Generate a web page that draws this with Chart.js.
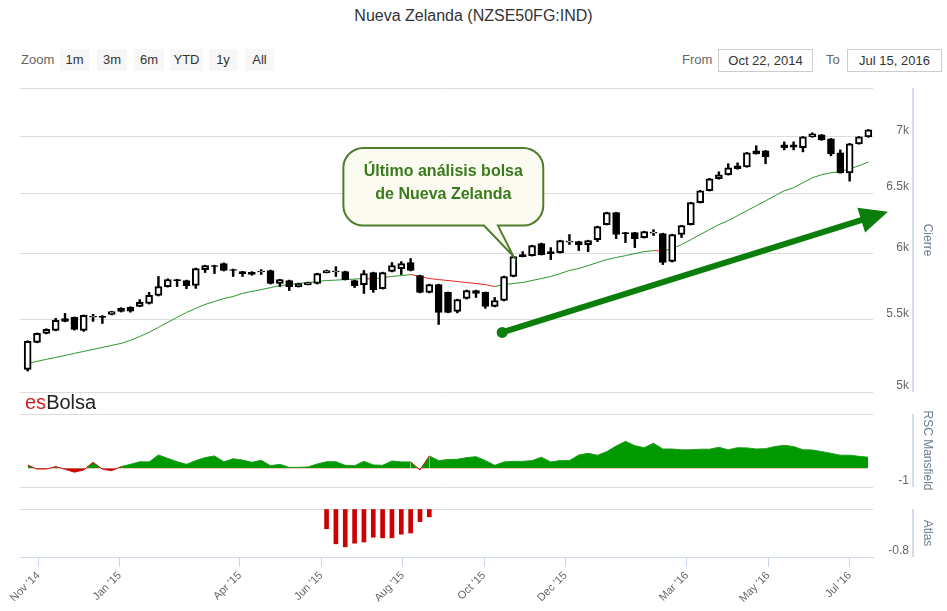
<!DOCTYPE html>
<html lang="es">
<head>
<meta charset="utf-8">
<title>Nueva Zelanda (NZSE50FG:IND)</title>
<script src="https://cdn.jsdelivr.net/npm/chart.js@4.4.1/dist/chart.umd.min.js"></script>
<style>
  html, body { margin: 0; padding: 0; background: #fff; }
  body { font-family: "Liberation Sans", Arial, sans-serif; }
  #wrap { position: relative; width: 947px; height: 611px; overflow: hidden; }
  #title { position: absolute; left: 0; top: 7px; width: 947px; text-align: center; font-size: 16px; color: #333; }
  .lbl { position: absolute; top: 52px; font-size: 13px; line-height: 16px; color: #666; }
  .btn { position: absolute; top: 49px; height: 22px; line-height: 22px; background: #f7f7f7; font-size: 13px; color: #333; text-align: center; }
  .inp { position: absolute; top: 49px; width: 93px; height: 21px; line-height: 21px; border: 1px solid #ccc; font-size: 13px; color: #333; text-align: center; }
  canvas { position: absolute; left: 0; }
  #logo { position: absolute; left: 25px; top: 391px; font-size: 20px; line-height: 23px; color: #222; }
  #logo span { color: #d42020; }
</style>
</head>
<body>
<div id="wrap">
  <div id="title">Nueva Zelanda (NZSE50FG:IND)</div>

  <div class="lbl" style="left:21px">Zoom</div>
  <div class="btn" style="left:60px;width:29px">1m</div>
  <div class="btn" style="left:97px;width:30px">3m</div>
  <div class="btn" style="left:134px;width:30px">6m</div>
  <div class="btn" style="left:170px;width:33px">YTD</div>
  <div class="btn" style="left:209px;width:28px">1y</div>
  <div class="btn" style="left:245px;width:29px">All</div>

  <div class="lbl" style="left:682px">From</div>
  <div class="inp" style="left:718px">Oct 22, 2014</div>
  <div class="lbl" style="left:826px">To</div>
  <div class="inp" style="left:847px">Jul 15, 2016</div>

  <canvas id="mainChart" width="947" height="320" style="top:80px"></canvas>
  <canvas id="rscChart" width="947" height="90" style="top:405px"></canvas>
  <canvas id="atlasChart" width="947" height="111" style="top:500px"></canvas>

  <div id="logo"><span>es</span>Bolsa</div>
</div>

<script>
// Weekly candles, first one on the week of Oct 24, 2014 (week 80 has no candle)
const firstWeek = '2014-10-24';

const opens = [5151,5338,5402,5423,5509,5517,5423,5518,5524,5539,
  5583,5590,5597,5620,5679,5746,5800,5792,5755,5876,
  5907,5923,5877,5861,5855,5858,5869,5769,5792,5746,
  5761,5769,5853,5858,5861,5792,5761,5853,5730,5861,
  5884,5931,5830,5702,5761,5702,5560,5656,5716,5702,
  5597,5641,5823,5993,5985,6081,6017,6009,6093,6097,
  6073,6113,6235,6334,6170,6170,6129,6166,6162,5939,
  6154,6235,6418,6520,6624,6659,6738,6729,6872,6872,
  null,6927,6927,6900,7000,7018,6982,6854,6676,6936,
  7000];

const highs = [5350,5405,5435,5510,5546,5520,5535,5539,5530,5562,
  5588,5595,5648,5702,5823,5805,5802,5795,5888,5910,
  5910,5928,5880,5863,5860,5876,5872,5802,5795,5772,
  5780,5848,5872,5899,5864,5795,5869,5856,5856,5931,
  5938,5962,5833,5764,5764,5705,5651,5720,5719,5705,
  5664,5826,5980,6017,6068,6085,6049,6108,6154,6100,
  6108,6222,6338,6338,6172,6172,6181,6194,6165,6157,
  6230,6421,6523,6627,6685,6756,6764,6858,6918,6876,
  null,6954,6954,7003,7037,7022,6985,6881,6940,7003,
  7068];

const lows = [5140,5335,5398,5420,5485,5425,5416,5488,5473,5535,
  5556,5555,5595,5615,5675,5742,5746,5730,5732,5853,
  5845,5865,5823,5823,5832,5838,5765,5746,5716,5742,
  5758,5765,5850,5823,5796,5738,5694,5702,5727,5858,
  5838,5866,5698,5698,5466,5550,5550,5652,5664,5583,
  5594,5638,5820,5975,5982,5990,5954,6005,6073,6025,
  6017,6097,6232,6121,6089,6049,6125,6146,5915,5935,
  6130,6232,6415,6517,6620,6655,6708,6725,6842,6756,
  null,6881,6881,6863,6997,6968,6827,6672,6603,6933,
  6997];

const closes = [5345,5402,5430,5495,5488,5430,5532,5524,5517,5560,
  5560,5562,5627,5679,5746,5799,5790,5753,5884,5907,
  5900,5869,5870,5845,5838,5864,5769,5799,5746,5769,
  5777,5845,5869,5864,5799,5753,5845,5723,5853,5907,
  5923,5869,5702,5761,5553,5553,5648,5716,5694,5597,
  5641,5823,5977,5977,6065,5993,6001,6105,6101,6073,
  6105,6218,6334,6154,6162,6121,6178,6174,5931,6154,
  6227,6418,6520,6624,6659,6720,6712,6854,6845,6818,
  null,6900,6905,7000,7028,6972,6845,6676,6936,7000,
  7065];

// Moving average drawn over the candles (red while it falls)
const movingAvg = [5193,5206,5220,5233,5247,5261,5275,5289,5303,5317,
  5331,5352,5380,5409,5445,5481,5517,5553,5583,5612,
  5634,5656,5671,5694,5709,5723,5738,5753,5761,5769,
  5777,5784,5792,5795,5799,5803,5807,5803,5815,5823,
  5830,5838,5823,5807,5799,5792,5784,5777,5769,5761,
  5746,5761,5769,5777,5792,5807,5823,5845,5869,5884,
  5907,5931,5954,5970,5985,6001,6017,6025,6021,6041,
  6073,6113,6154,6194,6235,6268,6309,6350,6392,6434,
  6477,6520,6546,6589,6632,6659,6676,6685,6712,6738,
  6773];

const rscMansfield = [0.18,-0.04,-0.04,0.09,-0.05,-0.21,-0.09,0.32,-0.05,-0.13,
  0.09,0.21,0.35,0.34,0.71,0.53,0.35,0.21,0.41,0.57,
  0.66,0.35,0.51,0.44,0.32,0.43,0.14,0.21,0.05,0.05,
  0.07,0.23,0.35,0.35,0.16,0.14,0.37,0.18,0.16,0.39,
  0.34,0.34,-0.09,0.66,0.41,0.47,0.48,0.57,0.62,0.41,
  0.16,0.34,0.37,0.37,0.41,0.59,0.34,0.41,0.41,0.71,
  0.80,0.70,0.89,1.19,1.44,1.21,1.10,1.34,1.03,1.03,
  0.99,0.99,1.02,1.02,1.12,0.99,1.10,1.09,1.03,1.05,
  1.16,1.23,1.16,0.99,0.98,0.89,0.80,0.70,0.70,0.64,
  0.59];

const atlasWeeks = [32,33,34,35,36,37,38,39,40,41,42,43];
const atlasValues = [-0.33,-0.58,-0.63,-0.57,-0.55,-0.47,-0.48,-0.48,-0.42,-0.40,-0.21,-0.13];

const priceTicks = [5000, 5500, 6000, 6500, 7000];
const priceMax = 7466;
const rscTicks = [-1, 2.9];
const atlasTicks = [-0.8, 0];

const monthDates = ['2014-11-01','2015-01-01','2015-04-01','2015-06-01','2015-08-01',
  '2015-10-01','2015-12-01','2016-03-01','2016-05-01','2016-07-01'];
const monthLabels = ["Nov '14","Jan '15","Apr '15","Jun '15","Aug '15",
  "Oct '15","Dec '15","Mar '16","May '16","Jul '16"];

// Annotation anchors, in week / price units
const callout = { x0: 33.8, x1: 55.2, top: 6899, bottom: 6227, tailLeft: 48.85, tailRight: 50.35,
  tipX: 52, tipY: 5980, lines: ['Último análisis bolsa', 'de Nueva Zelanda'] };
const trendArrow = { fromX: 50.8, fromY: 5409, toX: 92.1, toY: 6342 };

const X_MIN = -0.82, X_MAX = 90.5;
const weeks = opens.map((_, i) => i);
const candleWeeks = weeks.filter(i => opens[i] !== null);
const monthPos = monthDates.map(d => (Date.parse(d) - Date.parse(firstWeek)) / (7 * 864e5));

Chart.defaults.font.family = '"Liberation Sans", Arial, sans-serif';
Chart.defaults.animation = false;
Chart.defaults.plugins.legend.display = false;
Chart.defaults.plugins.tooltip.enabled = false;

// every pane keeps the same plot left / right edges
const paneLayout = (top, bottom) => ({ padding: { left: 20, right: 38, top: top, bottom: bottom } });

function hiddenX() {
  return { type: 'linear', min: X_MIN, max: X_MAX, offset: false, display: false };
}

// Right side value axis shared by the three panes
function rightAxis(title, values, label, extra) {
  return Object.assign({
    position: 'right',
    afterFit: s => { s.width = 36; s.paddingTop = 0; s.paddingBottom = 0; },
    afterBuildTicks: s => { s.ticks = values.map(v => ({ value: v })); },
    border: { display: false },
    grid: { color: '#dcdcdc', drawTicks: false },
    ticks: { padding: 0, crossAlign: 'far', labelOffset: -6, color: '#666', font: { size: 12 },
      autoSkip: false, callback: label },
    title: { display: true, text: title, color: '#6d7b91', font: { size: 12 }, padding: { top: -26, bottom: 0 } }
  }, extra);
}

// Light vertical axis line right of the tick labels
const axisLine = {
  id: 'axisLine',
  afterDraw(chart) {
    const { ctx, chartArea: a } = chart;
    ctx.save();
    ctx.strokeStyle = '#c6d1e6';
    ctx.lineWidth = 1.5;
    ctx.beginPath();
    ctx.moveTo(a.right + 40, a.top);
    ctx.lineTo(a.right + 40, a.bottom);
    ctx.stroke();
    ctx.restore();
  }
};

// Balloon and trend arrow on the price pane
const notes = {
  id: 'notes',
  afterDatasetsDraw(chart) {
    const { ctx, scales: { x, y } } = chart;
    const l = x.getPixelForValue(callout.x0), r = x.getPixelForValue(callout.x1);
    const t = y.getPixelForValue(callout.top), b = y.getPixelForValue(callout.bottom);
    const tl = x.getPixelForValue(callout.tailLeft), tr = x.getPixelForValue(callout.tailRight);
    const tx = x.getPixelForValue(callout.tipX), ty = y.getPixelForValue(callout.tipY);
    const rad = 20;

    ctx.save();
    ctx.beginPath();
    ctx.moveTo(l + rad, t);
    ctx.arcTo(r, t, r, b, rad);
    ctx.arcTo(r, b, l, b, rad);
    ctx.lineTo(tr, b);
    ctx.lineTo(tx, ty);
    ctx.lineTo(tl, b);
    ctx.arcTo(l, b, l, t, rad);
    ctx.arcTo(l, t, r, t, rad);
    ctx.closePath();
    ctx.fillStyle = '#fbfbf1';
    ctx.fill();
    ctx.lineWidth = 2;
    ctx.strokeStyle = '#4f7d2c';
    ctx.stroke();

    ctx.fillStyle = '#3a7a1c';
    ctx.font = 'bold 16px "Liberation Sans", Arial, sans-serif';
    ctx.textAlign = 'center';
    ctx.textBaseline = 'middle';
    const cx = (l + r) / 2, cy = (t + b) / 2;
    ctx.fillText(callout.lines[0], cx, cy - 15);
    ctx.fillText(callout.lines[1], cx, cy + 8);

    // arrow
    const x1 = x.getPixelForValue(trendArrow.fromX), y1 = y.getPixelForValue(trendArrow.fromY);
    const x2 = x.getPixelForValue(trendArrow.toX), y2 = y.getPixelForValue(trendArrow.toY);
    const ang = Math.atan2(y2 - y1, x2 - x1);
    const head = 28, half = 13;
    const bx = x2 - head * Math.cos(ang), by = y2 - head * Math.sin(ang);
    ctx.strokeStyle = ctx.fillStyle = '#0b7e0b';
    ctx.lineWidth = 6;
    ctx.lineCap = 'round';
    ctx.beginPath();
    ctx.moveTo(x1, y1);
    ctx.lineTo(bx, by);
    ctx.stroke();
    ctx.beginPath();
    ctx.arc(x1, y1, 5.5, 0, Math.PI * 2);
    ctx.fill();
    ctx.beginPath();
    ctx.moveTo(x2, y2);
    ctx.lineTo(bx - half * Math.sin(ang), by + half * Math.cos(ang));
    ctx.lineTo(bx + half * Math.sin(ang), by - half * Math.cos(ang));
    ctx.closePath();
    ctx.fill();
    ctx.restore();
  }
};

// Price pane: candles + moving average
new Chart(document.getElementById('mainChart'), {
  type: 'bar',
  data: {
    datasets: [
      {
        type: 'line',
        label: 'Media',
        data: weeks.map(i => ({ x: i, y: movingAvg[i] })),
        borderColor: '#2a972a',
        borderWidth: 1,
        pointRadius: 0,
        segment: { borderColor: c => c.p1.parsed.y < c.p0.parsed.y ? '#ee2020' : '#2a972a' },
        order: 3
      },
      {
        label: 'Mechas',
        data: candleWeeks.map(i => ({ x: i, y: [lows[i], highs[i]] })),
        backgroundColor: '#000',
        barThickness: 1.8,
        grouped: false,
        order: 2
      },
      {
        label: 'Cierre',
        data: candleWeeks.map(i => ({ x: i, y: [opens[i], closes[i]] })),
        backgroundColor: ctx => (ctx.raw && ctx.raw.y[1] >= ctx.raw.y[0]) ? '#fff' : '#000',
        borderColor: '#000',
        borderWidth: 2,
        borderSkipped: false,
        barThickness: 7,
        grouped: false,
        order: 1
      }
    ]
  },
  options: {
    responsive: false,
    layout: paneLayout(8, 8),
    scales: {
      x: hiddenX(),
      y: rightAxis('Cierre', priceTicks.concat([priceMax]),
        v => priceTicks.includes(v) ? (v / 1000) + 'k' : '',
        { type: 'logarithmic', min: 5000, max: priceMax, bounds: 'data' })
    }
  },
  plugins: [axisLine, notes]
});

// RSC Mansfield pane
new Chart(document.getElementById('rscChart'), {
  type: 'line',
  data: {
    datasets: [{
      data: weeks.map(i => ({ x: i, y: rscMansfield[i] })),
      borderColor: '#1f9f1f',
      borderWidth: 1,
      pointRadius: 0,
      segment: { borderColor: c => (c.p0.parsed.y < 0 || c.p1.parsed.y < 0) ? '#d01010' : '#1f9f1f' },
      fill: { target: { value: 0 }, above: '#009900', below: '#cc0000' }
    }]
  },
  options: {
    responsive: false,
    layout: paneLayout(9, 8),
    scales: {
      x: hiddenX(),
      y: rightAxis('RSC Mansfield', rscTicks, v => v === -1 ? '-1' : '', { min: -1, max: 2.9 })
    }
  },
  plugins: [axisLine]
});

// Atlas pane, carries the date axis
new Chart(document.getElementById('atlasChart'), {
  type: 'bar',
  data: {
    datasets: [{
      data: atlasWeeks.map((w, k) => ({ x: w, y: atlasValues[k] })),
      backgroundColor: '#cc0000',
      barThickness: 4
    }]
  },
  options: {
    responsive: false,
    layout: paneLayout(9, 0),
    scales: {
      x: {
        type: 'linear', min: X_MIN, max: X_MAX, offset: false,
        afterBuildTicks: s => { s.ticks = monthPos.map(v => ({ value: v })); },
        afterFit: s => { s.height = 54; s.paddingLeft = 0; s.paddingRight = 0; },
        grid: { offset: false, drawOnChartArea: false, drawTicks: true, tickLength: 10, tickColor: '#ccd6eb' },
        border: { display: true, color: '#ccd6eb' },
        ticks: { autoSkip: false, minRotation: 45, maxRotation: 45, padding: 2, color: '#666',
          font: { size: 11 }, callback: (v, idx) => monthLabels[idx] }
      },
      y: rightAxis('Atlas', atlasTicks, v => v === -0.8 ? '-0.8' : '', { min: -0.8, max: 0 })
    }
  },
  plugins: [axisLine]
});
</script>
</body>
</html>
